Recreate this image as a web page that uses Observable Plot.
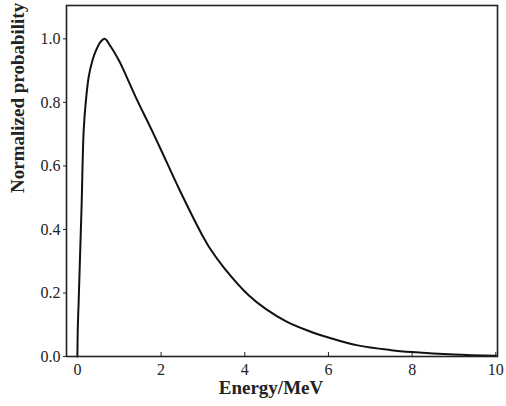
<!DOCTYPE html>
<html>
<head>
<meta charset="utf-8">
<script src="https://cdn.jsdelivr.net/npm/d3@7"></script>
<script src="https://cdn.jsdelivr.net/npm/@observablehq/plot@0.6"></script>
<style>
  html, body { margin: 0; padding: 0; background: #ffffff; }
  #chart svg { display: block; }
</style>
</head>
<body>
<div id="chart"></div>
<script>
// Energy (MeV) and normalized probability
const energy = [0, 0.01, 0.03, 0.06, 0.1, 0.15, 0.2, 0.27, 0.36, 0.45, 0.55, 0.65, 0.8, 1.0, 1.11, 1.4, 1.75, 2.0, 2.44, 3.0, 3.15, 3.5, 4.1, 4.5, 5.0, 5.5, 6.0, 6.7, 7.5, 8.0, 9.0, 10.0];
const probability = [0, 0.09, 0.17, 0.3, 0.47, 0.71, 0.8, 0.88, 0.932, 0.965, 0.99, 1.0, 0.975, 0.93, 0.90, 0.815, 0.72, 0.65, 0.525, 0.378, 0.344, 0.28, 0.192, 0.15, 0.11, 0.082, 0.06, 0.035, 0.02, 0.014, 0.006, 0.002];
const xTicks = [0, 2, 4, 6, 8, 10];
const yTicks = [0, 0.2, 0.4, 0.6, 0.8, 1.0];
const xLabel = "Energy/MeV";
const yLabel = "Normalized probability";

const data = energy.map((e, i) => ({e, p: probability[i]}));
const font = "Liberation Serif, Times New Roman, serif";

const chart = Plot.plot({
  width: 506,
  height: 406,
  marginLeft: 66,
  marginRight: 9,
  marginTop: 5,
  marginBottom: 50,
  style: {fontFamily: font, fontSize: "16px", color: "#222", background: "#ffffff"},
  x: {domain: [-0.26, 10.04]},
  y: {domain: [0, 1.105]},
  marks: [
    Plot.axisX(xTicks, {tickSize: -4, tickPadding: 11, tickFormat: d => String(d), label: null, stroke: "#222", fill: "#222", fontSize: 16, fontFamily: font}),
    Plot.axisY(yTicks, {tickSize: 3, tickPadding: 3, tickFormat: d3.format(".1f"), label: null, stroke: "#222", fill: "#222", fontSize: 16, fontFamily: font}),
    Plot.line(data, {x: "e", y: "p", curve: "catmull-rom", stroke: "#111", strokeWidth: 2}),
    Plot.frame({stroke: "#222", strokeWidth: 1.6}),
    Plot.text([xLabel], {frameAnchor: "bottom", dy: 37, dx: -11, fontWeight: "bold", fontSize: 19, fontFamily: font, fill: "#222", lineAnchor: "bottom", text: d => d}),
    Plot.text([yLabel], {frameAnchor: "left", dx: -49, dy: 12, rotate: -90, fontWeight: "bold", fontSize: 19, fontFamily: font, fill: "#222", lineAnchor: "middle", text: d => d})
  ]
});
document.getElementById("chart").appendChild(chart);
</script>
</body>
</html>
